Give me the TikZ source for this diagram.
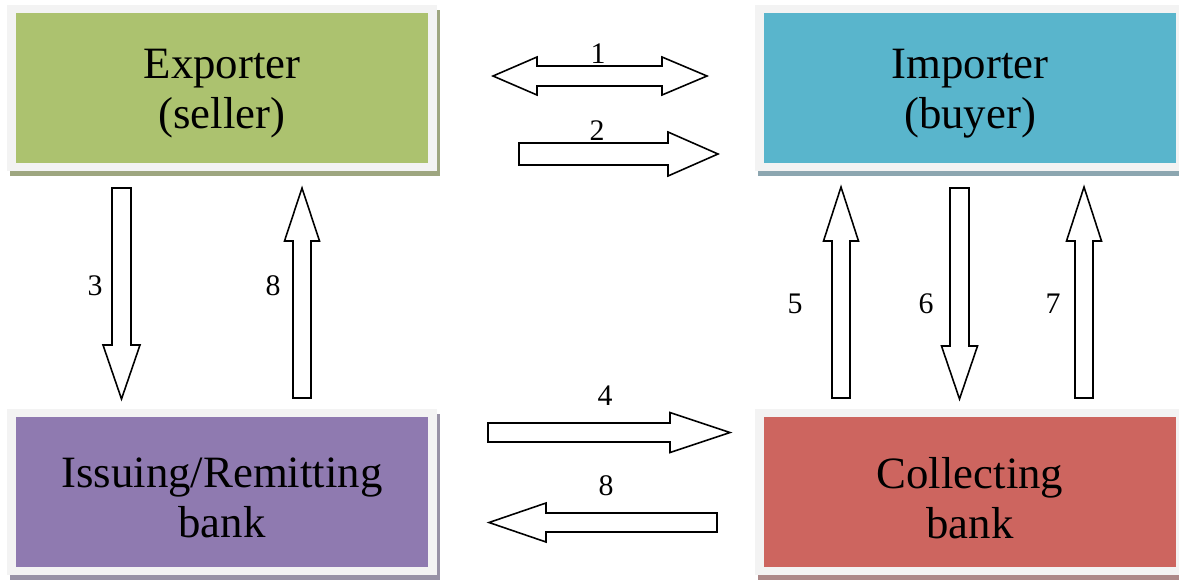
\documentclass[tikz,border=0pt]{standalone}
\usepackage{fontspec}
\setmainfont{Liberation Serif}
\definecolor{gfill}{RGB}{172,194,111}
\definecolor{bfill}{RGB}{89,181,204}
\definecolor{pfill}{RGB}{143,122,176}
\definecolor{rfill}{RGB}{205,101,95}
\definecolor{gsh}{RGB}{158,166,128}
\definecolor{bsh}{RGB}{140,166,176}
\definecolor{psh}{RGB}{152,146,166}
\definecolor{rsh}{RGB}{172,136,136}
\definecolor{boxedge}{RGB}{243,243,243}
\newcommand{\blkarrow}[6]{%
  \begin{scope}[shift={#1}, rotate=#2]
    \draw[barrow] (0,-#4) -- ({#3-#6},-#4) -- ({#3-#6},-#5) -- (#3,0) -- ({#3-#6},#5) -- ({#3-#6},#4) -- (0,#4) -- cycle;
  \end{scope}}
\newcommand{\lowr}[1]{\raisebox{-0.12cm}[\height][\depth]{#1}}
\begin{document}
\begin{tikzpicture}[x=0.02cm,y=-0.02cm,
  box/.style 2 args={fill=#1, draw=boxedge, line width=0.17cm,
    minimum width=8.42cm, minimum height=3.16cm, inner sep=0pt,
    align=center, font=\fontsize{25.5}{28.5}\selectfont,
    preaction={fill=#2, draw=#2, line width=0.17cm,
      transform canvas={shift={(0.06cm,-0.1cm)}}}},
  barrow/.style={draw=black, fill=white, line width=0.9pt, line join=miter},
  num/.style={font=\fontsize{17}{20}\selectfont, inner sep=0pt, anchor=base}]
\useasboundingbox (0,0) rectangle (1179,579);
\fill[white] (0,0) rectangle (1179,579);
\begin{scope}
\clip (0,0) rectangle (1179,579);
\node[box={gfill}{gsh}] (exp) at (222,88) {\lowr{Exporter}\\\lowr{(seller)}};
\node[box={bfill}{bsh}] (imp) at (970,88) {\lowr{Importer}\\\lowr{(buyer)}};
\node[box={pfill}{psh}] (iss) at (222,492) {\lowr{Issuing/Remitting}\\\lowr{bank}};
\node[box={rfill}{rsh}] (col) at (970,492) {\lowr{Collecting}\\\lowr{bank}};
\end{scope}
% arrow 1 (double)
\draw[barrow] (493,76) -- (537,57) -- (537,66) -- (662,66) -- (662,57) -- (707,76)
  -- (662,95) -- (662,86) -- (537,86) -- (537,95) -- cycle;
\blkarrow{(519,154)}{0}{199}{11}{22}{50}
\blkarrow{(488,432.5)}{0}{242}{9.5}{20}{60}
\blkarrow{(717,522.5)}{180}{228}{9.5}{19.5}{57}
\blkarrow{(121.5,188)}{-90}{211}{9.5}{18.5}{54}
\blkarrow{(302,398)}{90}{210}{9}{17.5}{53}
\blkarrow{(841,398)}{90}{211}{9}{17.5}{54}
\blkarrow{(959.5,188)}{-90}{211}{9.5}{18}{53}
\blkarrow{(1084,398)}{90}{211}{9}{17.5}{54}
% labels
\node[num] (n1) at (598,63) {1};
\node[num] (n2) at (597,140) {2};
\node[num] (n4) at (605,405) {4};
\node[num] (n8a) at (606,495) {8};
\node[num] (n3) at (95,295) {3};
\node[num] (n8b) at (273,295) {8};
\node[num] (n5) at (795,313) {5};
\node[num] (n6) at (926,313) {6};
\node[num] (n7) at (1053,313) {7};
\end{tikzpicture}
\end{document}
